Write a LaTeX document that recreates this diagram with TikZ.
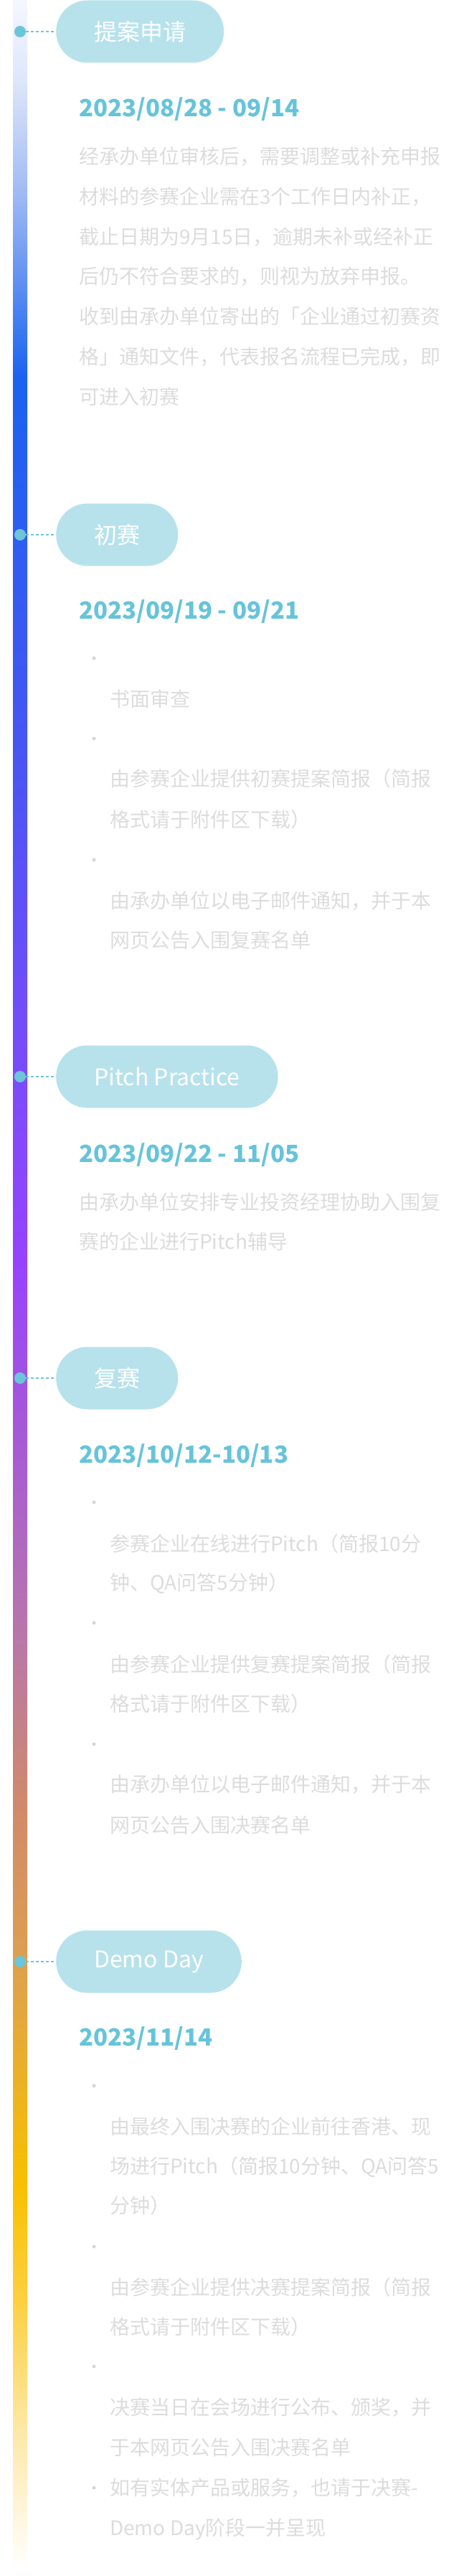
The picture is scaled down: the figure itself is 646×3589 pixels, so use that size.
\documentclass[tikz,border=0pt]{standalone}
\usepackage{fontspec}
\setmainfont{Noto Sans CJK SC}

\definecolor{pillblue}{HTML}{B7E2EC}
\definecolor{datecyan}{HTML}{66C4DA}
\definecolor{dotcyan}{HTML}{6CC5D9}
\definecolor{bodygray}{HTML}{DCDCDC}
\definecolor{bulletgray}{HTML}{D6D6D6}
% colours along the timeline bar, bottom to top
\definecolor{barend}{HTML}{FFFFFF}
\definecolor{barpale}{HTML}{FDE8A8}
\definecolor{barlemon}{HTML}{FCD040}
\definecolor{bargold}{HTML}{F8C000}
\definecolor{barsand}{HTML}{DCA050}
\definecolor{barorange}{HTML}{D08A6A}
\definecolor{barmauve}{HTML}{B878A8}
\definecolor{barorchid}{HTML}{A55AD6}
\definecolor{barpurple}{HTML}{9743FE}
\definecolor{barviolet}{HTML}{7A4CFA}
\definecolor{barindigo}{HTML}{4656F2}
\definecolor{barblue}{HTML}{1A62F0}
\definecolor{barsky}{HTML}{9DB8F4}
\definecolor{barmist}{HTML}{DDE6FA}
\definecolor{bartop}{HTML}{F5F7FF}

\pgfdeclareverticalshading{timelinebar}{100bp}{color(0bp)=(barend); color(25bp)=(barend);
  color(27.68bp)=(barpale); color(30.24bp)=(barlemon); color(32.49bp)=(bargold);
  color(36.89bp)=(barsand); color(39.83bp)=(barorange); color(43.03bp)=(barmauve);
  color(47.07bp)=(barorchid); color(50.42bp)=(barpurple); color(54.09bp)=(barviolet);
  color(60.61bp)=(barindigo); color(67.65bp)=(barblue); color(71.16bp)=(barsky);
  color(73.41bp)=(barmist); color(75bp)=(bartop); color(100bp)=(bartop)}

\begin{document}
\begin{tikzpicture}[x=1pt, y=-1pt,
    stage/.style={fill=pillblue, rounded corners=43.5pt, minimum height=87pt,
      inner xsep=53pt, inner ysep=0pt, anchor=west, text=white,
      font=\fontsize{32}{32}\selectfont},
    stagedot/.style={circle, fill=dotcyan, minimum size=16pt, inner sep=0pt},
    link/.style={dotcyan, line width=2pt, dash pattern=on 4pt off 3pt},
    datelabel/.style={anchor=base west, inner sep=0pt, text=datecyan,
      font=\fontsize{33}{33}\selectfont\bfseries},
    body/.style={anchor=base west, inner sep=0pt, text=bodygray,
      font=\fontsize{28}{28}\selectfont},
    bulletdot/.style={fill=bulletgray}]
  \useasboundingbox (0,0) rectangle (646,3589);

  % Timeline bar
  \shade[shading=timelinebar] (18,0) rectangle (38,3580);

  % Stage 1
  \node[stagedot] (dot1) at (28,44) {};
  \node[stage] (stage1) at (78,44) {提案申请};
  \draw[link] (dot1) -- (stage1);
  \node[datelabel] (date1) at (110,162) {2023/08/28 - 09/14};
  \node[body] (textA1) at (110,228) {经承办单位审核后，需要调整或补充申报};
  \node[body] (textA2) at (110,284) {材料的参赛企业需在3个工作日内补正，};
  \node[body] (textA3) at (110,340) {截止日期为9月15日，逾期未补或经补正};
  \node[body] (textA4) at (110,395) {后仍不符合要求的，则视为放弃申报。};
  \node[body] (textA5) at (110,451) {收到由承办单位寄出的「企业通过初赛资};
  \node[body] (textA6) at (110,507) {格」通知文件，代表报名流程已完成，即};
  \node[body] (textA7) at (110,563) {可进入初赛};

  % Stage 2
  \node[stagedot] (dot2) at (28,745) {};
  \node[stage] (stage2) at (78,745) {初赛};
  \draw[link] (dot2) -- (stage2);
  \node[datelabel] (date2) at (110,862) {2023/09/19 - 09/21};
  \fill[bulletdot] (131,917) circle (2.5);
  \node[body] (textB1) at (153,984) {书面审查};
  \fill[bulletdot] (131,1029) circle (2.5);
  \node[body] (textB2) at (153,1095) {由参赛企业提供初赛提案简报（简报};
  \node[body] (textB3) at (153,1152) {格式请于附件区下载）};
  \fill[bulletdot] (131,1198) circle (2.5);
  \node[body] (textB4) at (153,1265) {由承办单位以电子邮件通知，并于本};
  \node[body] (textB5) at (153,1320) {网页公告入围复赛名单};

  % Stage 3
  \node[stagedot] (dot3) at (28,1500) {};
  \node[stage] (stage3) at (78,1500) {Pitch Practice};
  \draw[link] (dot3) -- (stage3);
  \node[datelabel] (date3) at (110,1619) {2023/09/22 - 11/05};
  \node[body] (textC1) at (110,1685) {由承办单位安排专业投资经理协助入围复};
  \node[body] (textC2) at (110,1740) {赛的企业进行Pitch辅导};

  % Stage 4
  \node[stagedot] (dot4) at (28,1920) {};
  \node[stage] (stage4) at (78,1920) {复赛};
  \draw[link] (dot4) -- (stage4);
  \node[datelabel] (date4) at (110,2038) {2023/10/12-10/13};
  \fill[bulletdot] (131,2093) circle (2.5);
  \node[body] (textD1) at (153,2161) {参赛企业在线进行Pitch（简报10分};
  \node[body] (textD2) at (153,2215) {钟、QA问答5分钟）};
  \fill[bulletdot] (131,2261) circle (2.5);
  \node[body] (textD3) at (153,2329) {由参赛企业提供复赛提案简报（简报};
  \node[body] (textD4) at (153,2384) {格式请于附件区下载）};
  \fill[bulletdot] (131,2430) circle (2.5);
  \node[body] (textD5) at (153,2496) {由承办单位以电子邮件通知，并于本};
  \node[body] (textD6) at (153,2553) {网页公告入围决赛名单};

  % Stage 5
  \node[stagedot] (dot5) at (28,2733) {};
  \node[stage] (stage5) at (78,2733) {Demo Day};
  \draw[link] (dot5) -- (stage5);
  \node[datelabel] (date5) at (110,2850) {2023/11/14};
  \fill[bulletdot] (131,2906) circle (2.5);
  \node[body] (textE1) at (153,2973) {由最终入围决赛的企业前往香港、现};
  \node[body] (textE2) at (153,3028) {场进行Pitch（简报10分钟、QA问答5};
  \node[body] (textE3) at (153,3083) {分钟）};
  \fill[bulletdot] (131,3130) circle (2.5);
  \node[body] (textE4) at (153,3197) {由参赛企业提供决赛提案简报（简报};
  \node[body] (textE5) at (153,3252) {格式请于附件区下载）};
  \fill[bulletdot] (131,3297) circle (2.5);
  \node[body] (textE6) at (153,3364) {决赛当日在会场进行公布、颁奖，并};
  \node[body] (textE7) at (153,3420) {于本网页公告入围决赛名单};
  \fill[bulletdot] (131,3466) circle (2.5);
  \node[body] (textE8) at (153,3476) {如有实体产品或服务，也请于决赛-};
  \node[body] (textE9) at (153,3532) {Demo Day阶段一并呈现};
\end{tikzpicture}
\end{document}
